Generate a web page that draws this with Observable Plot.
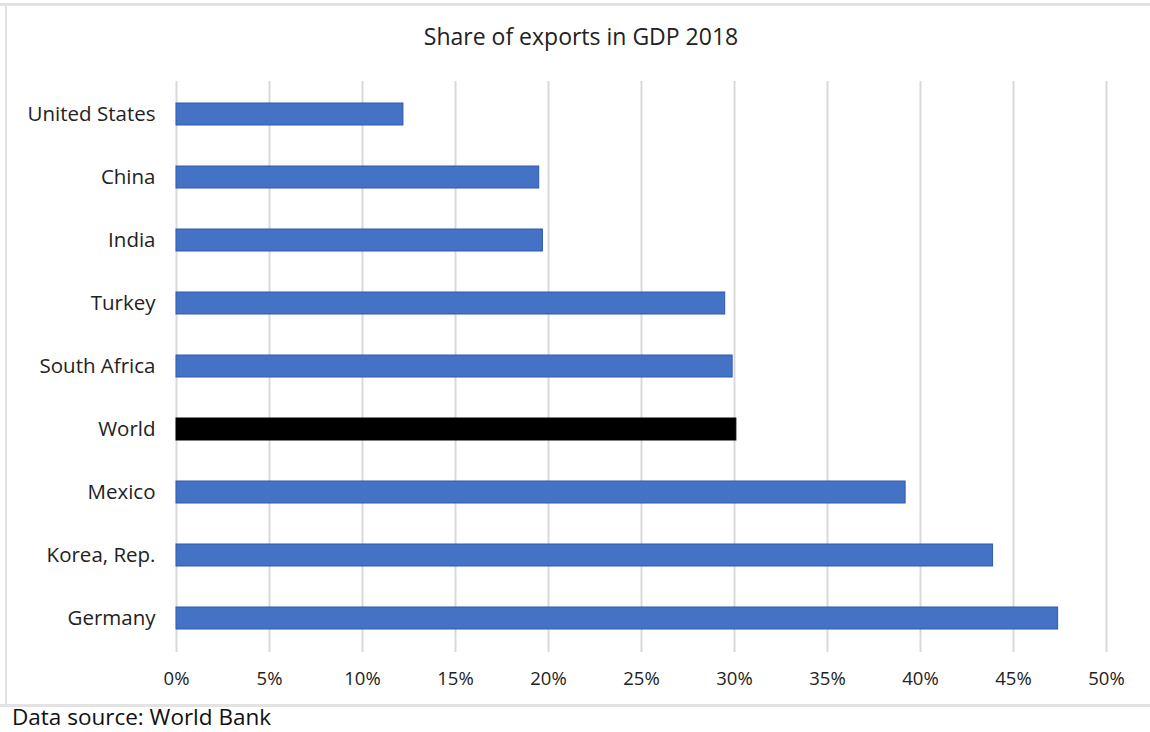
<!DOCTYPE html>
<html>
<head>
<meta charset="utf-8">
<script src="https://cdn.jsdelivr.net/npm/d3@7"></script>
<script src="https://cdn.jsdelivr.net/npm/@observablehq/plot@0.6"></script>
<style>
  body { margin: 0; background: #fff; }
  #wrap { position: relative; width: 1150px; height: 732px; overflow: hidden; font-family: "Open Sans", sans-serif; }
  #title { position: absolute; top: 20px; left: 0; width: 1162px; text-align: center; font-size: 23px; color: #222; }
  #chart { position: absolute; top: 0; left: 0; }
  #source { position: absolute; left: 12px; top: 705px; font-size: 22.5px; line-height: 24px; color: #111; }
  .line { position: absolute; background: #e3e3e3; }
  #chart svg g[aria-label="y-axis tick label"] text { font-size: 20.5px; }
</style>
</head>
<body>
<div id="wrap">
  <div class="line" style="left:0;top:3px;width:1150px;height:3px"></div>
  <div class="line" style="left:5px;top:3px;width:2px;height:704px"></div>
  <div class="line" style="left:0;top:704px;width:1150px;height:3px"></div>
  <div id="chart"></div>
  <div id="title">Share of exports in GDP 2018</div>
  <div id="source">Data source: World Bank</div>
</div>
<script>
const countries = ["United States", "China", "India", "Turkey", "South Africa", "World", "Mexico", "Korea, Rep.", "Germany"];
const shares = [0.122, 0.195, 0.197, 0.295, 0.299, 0.301, 0.392, 0.439, 0.474];
const xTicks = [0, 0.05, 0.10, 0.15, 0.20, 0.25, 0.30, 0.35, 0.40, 0.45, 0.50];

const data = countries.map((c, i) => ({country: c, share: shares[i]}));

const chart = Plot.plot({
  width: 1150,
  height: 700,
  marginTop: 81,
  marginBottom: 48,
  marginLeft: 176,
  marginRight: 44,
  style: {fontFamily: "Open Sans, sans-serif", fontSize: "18.5px", color: "#222", background: "transparent"},
  x: {domain: [0, 0.5], ticks: xTicks, tickFormat: d => Math.round(d * 100) + "%", tickSize: 0, tickPadding: 19, label: null},
  y: {domain: countries, paddingInner: 0.65, paddingOuter: 0.325, tickSize: 0, tickPadding: 21, label: null},
  marks: [
    Plot.ruleX(xTicks, {stroke: "#d9d9d9", strokeWidth: 2, strokeOpacity: 1}),
    Plot.barX(data, {
      y: "country",
      x: "share",
      fill: d => d.country === "World" ? "#000000" : "#4472C4",
      stroke: d => d.country === "World" ? "#000000" : "#2F5AAE",
      strokeWidth: 1
    })
  ]
});
document.getElementById("chart").appendChild(chart);
</script>
</body>
</html>
